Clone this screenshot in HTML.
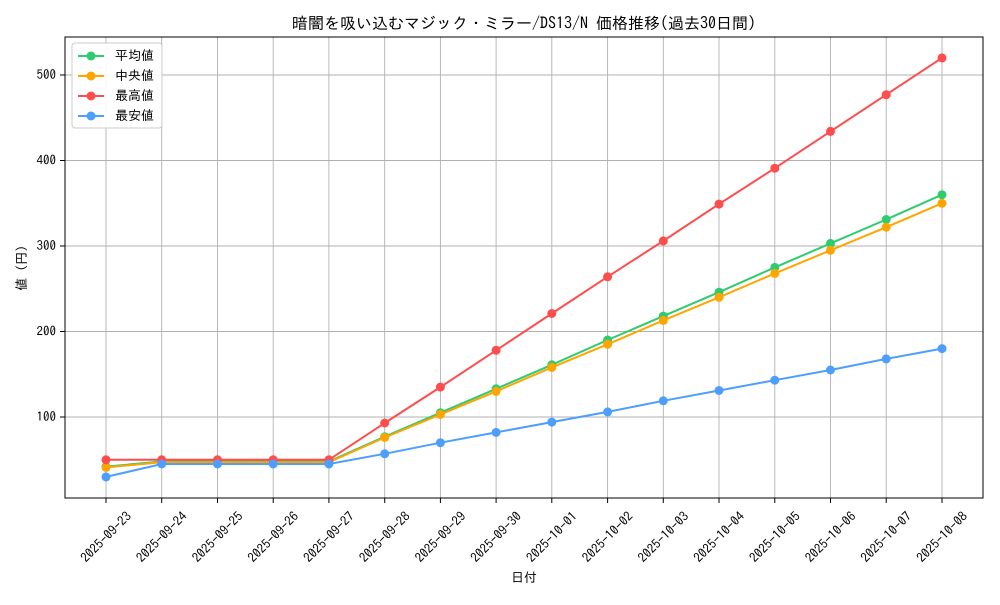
<!DOCTYPE html>
<html><head><meta charset="utf-8"><style>
body{margin:0;background:#fff}
text{font-family:"IPAGothic","Noto Sans CJK JP",monospace;fill:#000}
</style></head><body>
<svg width="1000" height="600" viewBox="0 0 1000 600" xmlns="http://www.w3.org/2000/svg">
<rect width="1000" height="600" fill="#fff"/>
<text x="524" y="29" font-size="16" text-anchor="middle">暗闇を吸い込むマジック・ミラー/DS13/N 価格推移(過去30日間)</text>
<g stroke="#b0b0b0" stroke-width="0.9">
<line x1="106" y1="37" x2="106" y2="498"/><line x1="161.7" y1="37" x2="161.7" y2="498"/><line x1="217.5" y1="37" x2="217.5" y2="498"/><line x1="273.2" y1="37" x2="273.2" y2="498"/><line x1="328.9" y1="37" x2="328.9" y2="498"/><line x1="384.7" y1="37" x2="384.7" y2="498"/><line x1="440.4" y1="37" x2="440.4" y2="498"/><line x1="496.1" y1="37" x2="496.1" y2="498"/><line x1="551.8" y1="37" x2="551.8" y2="498"/><line x1="607.6" y1="37" x2="607.6" y2="498"/><line x1="663.3" y1="37" x2="663.3" y2="498"/><line x1="719" y1="37" x2="719" y2="498"/><line x1="774.8" y1="37" x2="774.8" y2="498"/><line x1="830.5" y1="37" x2="830.5" y2="498"/><line x1="886.2" y1="37" x2="886.2" y2="498"/><line x1="942" y1="37" x2="942" y2="498"/>
<line x1="65" y1="417" x2="983" y2="417"/><line x1="65" y1="331.5" x2="983" y2="331.5"/><line x1="65" y1="246" x2="983" y2="246"/><line x1="65" y1="160.5" x2="983" y2="160.5"/><line x1="65" y1="75" x2="983" y2="75"/>
</g>
<rect x="65" y="37" width="918" height="461" fill="none" stroke="#000" stroke-width="1"/>
<g stroke="#000"><line x1="60" y1="417" x2="65" y2="417"/><line x1="60" y1="331.5" x2="65" y2="331.5"/><line x1="60" y1="246" x2="65" y2="246"/><line x1="60" y1="160.5" x2="65" y2="160.5"/><line x1="60" y1="75" x2="65" y2="75"/></g>
<g font-size="13" text-anchor="end"><text x="56" y="421">100</text><text x="56" y="335.5">200</text><text x="56" y="250">300</text><text x="56" y="164.5">400</text><text x="56" y="79">500</text></g>
<text transform="translate(26,268) rotate(-90)" font-size="13" text-anchor="middle">値 (円)</text>
<text x="524" y="582" font-size="13" text-anchor="middle">日付</text>
<g font-size="13" text-anchor="middle" dominant-baseline="central">
<text transform="translate(106,537) rotate(-45)">2025-09-23</text>
<text transform="translate(161.7,537) rotate(-45)">2025-09-24</text>
<text transform="translate(217.5,537) rotate(-45)">2025-09-25</text>
<text transform="translate(273.2,537) rotate(-45)">2025-09-26</text>
<text transform="translate(328.9,537) rotate(-45)">2025-09-27</text>
<text transform="translate(384.7,537) rotate(-45)">2025-09-28</text>
<text transform="translate(440.4,537) rotate(-45)">2025-09-29</text>
<text transform="translate(496.1,537) rotate(-45)">2025-09-30</text>
<text transform="translate(551.8,537) rotate(-45)">2025-10-01</text>
<text transform="translate(607.6,537) rotate(-45)">2025-10-02</text>
<text transform="translate(663.3,537) rotate(-45)">2025-10-03</text>
<text transform="translate(719,537) rotate(-45)">2025-10-04</text>
<text transform="translate(774.8,537) rotate(-45)">2025-10-05</text>
<text transform="translate(830.5,537) rotate(-45)">2025-10-06</text>
<text transform="translate(886.2,537) rotate(-45)">2025-10-07</text>
<text transform="translate(942,537) rotate(-45)">2025-10-08</text>
</g>
<g stroke="#000"><line x1="106" y1="498" x2="106" y2="503"/><line x1="161.7" y1="498" x2="161.7" y2="503"/><line x1="217.5" y1="498" x2="217.5" y2="503"/><line x1="273.2" y1="498" x2="273.2" y2="503"/><line x1="328.9" y1="498" x2="328.9" y2="503"/><line x1="384.7" y1="498" x2="384.7" y2="503"/><line x1="440.4" y1="498" x2="440.4" y2="503"/><line x1="496.1" y1="498" x2="496.1" y2="503"/><line x1="551.8" y1="498" x2="551.8" y2="503"/><line x1="607.6" y1="498" x2="607.6" y2="503"/><line x1="663.3" y1="498" x2="663.3" y2="503"/><line x1="719" y1="498" x2="719" y2="503"/><line x1="774.8" y1="498" x2="774.8" y2="503"/><line x1="830.5" y1="498" x2="830.5" y2="503"/><line x1="886.2" y1="498" x2="886.2" y2="503"/><line x1="942" y1="498" x2="942" y2="503"/></g>
<defs>
<polyline id="avg" points="106,466.6 161.7,461.5 217.5,461.5 273.2,461.5 328.9,461.5 384.7,436.7 440.4,412.7 496.1,388.8 551.8,364.8 607.6,340 663.3,316.1 719,292.2 774.8,267.4 830.5,243.4 886.2,219.5 942,194.7"/>
<polyline id="med" points="106,467.4 161.7,462.3 217.5,462.3 273.2,462.3 328.9,462.3 384.7,437.5 440.4,414.4 496.1,391.4 551.8,367.4 607.6,344.3 663.3,320.4 719,297.3 774.8,273.4 830.5,250.3 886.2,227.2 942,203.3"/>
<polyline id="max" points="106,459.8 161.7,459.8 217.5,459.8 273.2,459.8 328.9,459.8 384.7,423 440.4,387.1 496.1,350.3 551.8,313.5 607.6,276.8 663.3,240.9 719,204.1 774.8,168.2 830.5,131.4 886.2,94.7 942,57.9"/>
<polyline id="min" points="106,476.9 161.7,464 217.5,464 273.2,464 328.9,464 384.7,453.8 440.4,442.7 496.1,432.4 551.8,422.1 607.6,411.9 663.3,400.8 719,390.5 774.8,380.2 830.5,370 886.2,358.9 942,348.6"/>
<marker id="mg" markerWidth="10" markerHeight="10" refX="5" refY="5" markerUnits="userSpaceOnUse"><circle cx="5" cy="5" r="4.5" fill="#2ecc71"/></marker>
<marker id="mo" markerWidth="10" markerHeight="10" refX="5" refY="5" markerUnits="userSpaceOnUse"><circle cx="5" cy="5" r="4.5" fill="#ffa500"/></marker>
<marker id="mr" markerWidth="10" markerHeight="10" refX="5" refY="5" markerUnits="userSpaceOnUse"><circle cx="5" cy="5" r="4.5" fill="#ff4d4d"/></marker>
<marker id="mb" markerWidth="10" markerHeight="10" refX="5" refY="5" markerUnits="userSpaceOnUse"><circle cx="5" cy="5" r="4.5" fill="#4d9eff"/></marker>
</defs>
<g fill="none" stroke-width="2">
<use href="#avg" stroke="#2ecc71" marker-start="url(#mg)" marker-mid="url(#mg)" marker-end="url(#mg)"/>
<use href="#med" stroke="#ffa500" marker-start="url(#mo)" marker-mid="url(#mo)" marker-end="url(#mo)"/>
<use href="#max" stroke="#ff4d4d" marker-start="url(#mr)" marker-mid="url(#mr)" marker-end="url(#mr)"/>
<use href="#min" stroke="#4d9eff" marker-start="url(#mb)" marker-mid="url(#mb)" marker-end="url(#mb)"/>
</g>
<rect x="72" y="43" width="90" height="85" rx="3" fill="#fff" fill-opacity="0.85" stroke="#ccc"/>
<g stroke-width="2">
<line x1="78" y1="56" x2="104" y2="56" stroke="#2ecc71"/><circle cx="91" cy="56" r="4.5" fill="#2ecc71"/>
<line x1="78" y1="76" x2="104" y2="76" stroke="#ffa500"/><circle cx="91" cy="76" r="4.5" fill="#ffa500"/>
<line x1="78" y1="96" x2="104" y2="96" stroke="#ff4d4d"/><circle cx="91" cy="96" r="4.5" fill="#ff4d4d"/>
<line x1="78" y1="116" x2="104" y2="116" stroke="#4d9eff"/><circle cx="91" cy="116" r="4.5" fill="#4d9eff"/>
</g>
<g font-size="13"><text x="115" y="60">平均値</text><text x="115" y="80">中央値</text><text x="115" y="100">最高値</text><text x="115" y="120">最安値</text></g>
</svg>
</body></html>
